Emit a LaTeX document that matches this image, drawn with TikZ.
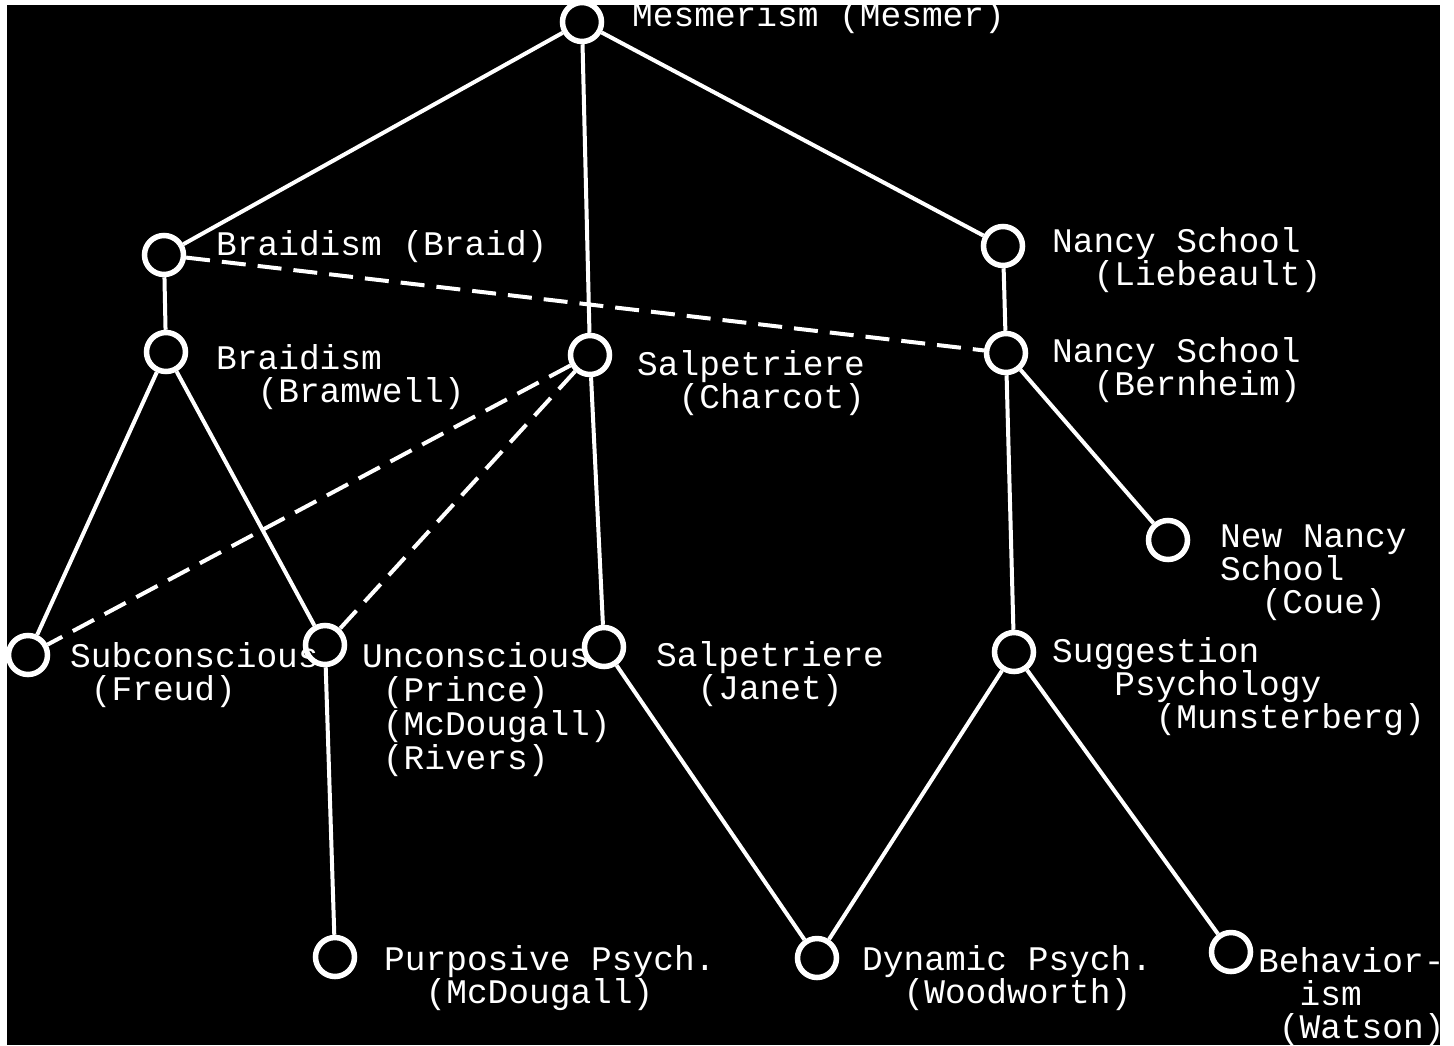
\documentclass[tikz,border=0pt]{standalone}
\usepackage{fontspec}
\newfontfamily\tw{Liberation Mono}
\newcommand\ic[1]{\hspace*{#1\dimexpr 0.6em\relax}}
\begin{document}
\begin{tikzpicture}[x=1pt,y=-1pt,
  dot/.style={circle,draw=white,line width=5.5pt,minimum size=39pt,inner sep=0pt},
  lbl/.style={anchor=base west,inner sep=0pt,text=white,align=left,font=\tw\fontsize{34.5}{33}\selectfont},
  solidline/.style={draw=white,line width=4pt},
  dashline/.style={draw=white,line width=4pt,dash pattern=on 24pt off 12pt}]
\useasboundingbox (0,0) rectangle (1454,1045);
\fill[white] (0,0) rectangle (1454,1045);
\begin{scope}
\clip (7,5) rectangle (1440,1045);
\fill[black] (7,5) rectangle (1440,1045);
% circles
\node[dot] (mes) at (582,22) {};
\node[dot] (braid) at (164,255) {};
\node[dot] (lieb) at (1003,246) {};
\node[dot] (bram) at (166,352) {};
\node[dot] (charcot) at (590,355) {};
\node[dot] (bern) at (1006,353) {};
\node[dot] (coue) at (1168,540) {};
\node[dot] (freud) at (28,655) {};
\node[dot] (uncon) at (325,645) {};
\node[dot] (janet) at (604,647) {};
\node[dot] (munst) at (1014,652) {};
\node[dot] (purp) at (335,957) {};
\node[dot] (dyn) at (817,958) {};
\node[dot] (behav) at (1231,952) {};
% solid connectors
\draw[solidline] (mes) -- (braid);
\draw[solidline] (mes) -- (charcot);
\draw[solidline] (mes) -- (lieb);
\draw[solidline] (braid) -- (bram);
\draw[solidline] (lieb) -- (bern);
\draw[solidline] (bram) -- (freud);
\draw[solidline] (bram) -- (uncon);
\draw[solidline] (charcot) -- (janet);
\draw[solidline] (bern) -- (munst);
\draw[solidline] (bern) -- (coue);
\draw[solidline] (uncon) -- (purp);
\draw[solidline] (janet) -- (dyn);
\draw[solidline] (munst) -- (dyn);
\draw[solidline] (munst) -- (behav);
% dashed connectors
\draw[dashline] (braid) -- (bern);
\draw[dashline] (charcot) -- (freud);
\draw[dashline] (charcot) -- (uncon);
% labels (anchor at the baseline of the last line)
\node[lbl] (tmes) at (632,26) {Mesmerism (Mesmer)};
\node[lbl] (tbraid) at (216,255) {Braidism (Braid)};
\node[lbl] (tbram) at (216,402) {Braidism\\\ic{2}(Bramwell)};
\node[lbl] (tcharcot) at (637,408) {Salpetriere\\\ic{2}(Charcot)};
\node[lbl] (tlieb) at (1052,285) {Nancy School\\\ic{2}(Liebeault)};
\node[lbl] (tbern) at (1052,395) {Nancy School\\\ic{2}(Bernheim)};
\node[lbl] (tcoue) at (1220,613) {New Nancy\\School\\\ic{2}(Coue)};
\node[lbl] (tfreud) at (70,700) {Subconscious\\\ic{1}(Freud)};
\node[lbl,font=\tw\fontsize{34.5}{34}\selectfont] (tuncon) at (362,769) {Unconscious\\\ic{1}(Prince)\\\ic{1}(McDougall)\\\ic{1}(Rivers)};
\node[lbl] (tjanet) at (656,699) {Salpetriere\\\ic{2}(Janet)};
\node[lbl] (tmunst) at (1052,728) {Suggestion\\\ic{3}Psychology\\\ic{5}(Munsterberg)};
\node[lbl] (tpurp) at (384,1003) {Purposive Psych.\\\ic{2}(McDougall)};
\node[lbl] (tdyn) at (862,1003) {Dynamic Psych.\\\ic{2}(Woodworth)};
\node[lbl] (tbehav) at (1258,1038) {Behavior-\\\ic{2}ism\\\ic{1}(Watson)};
\end{scope}
\end{tikzpicture}
\end{document}
